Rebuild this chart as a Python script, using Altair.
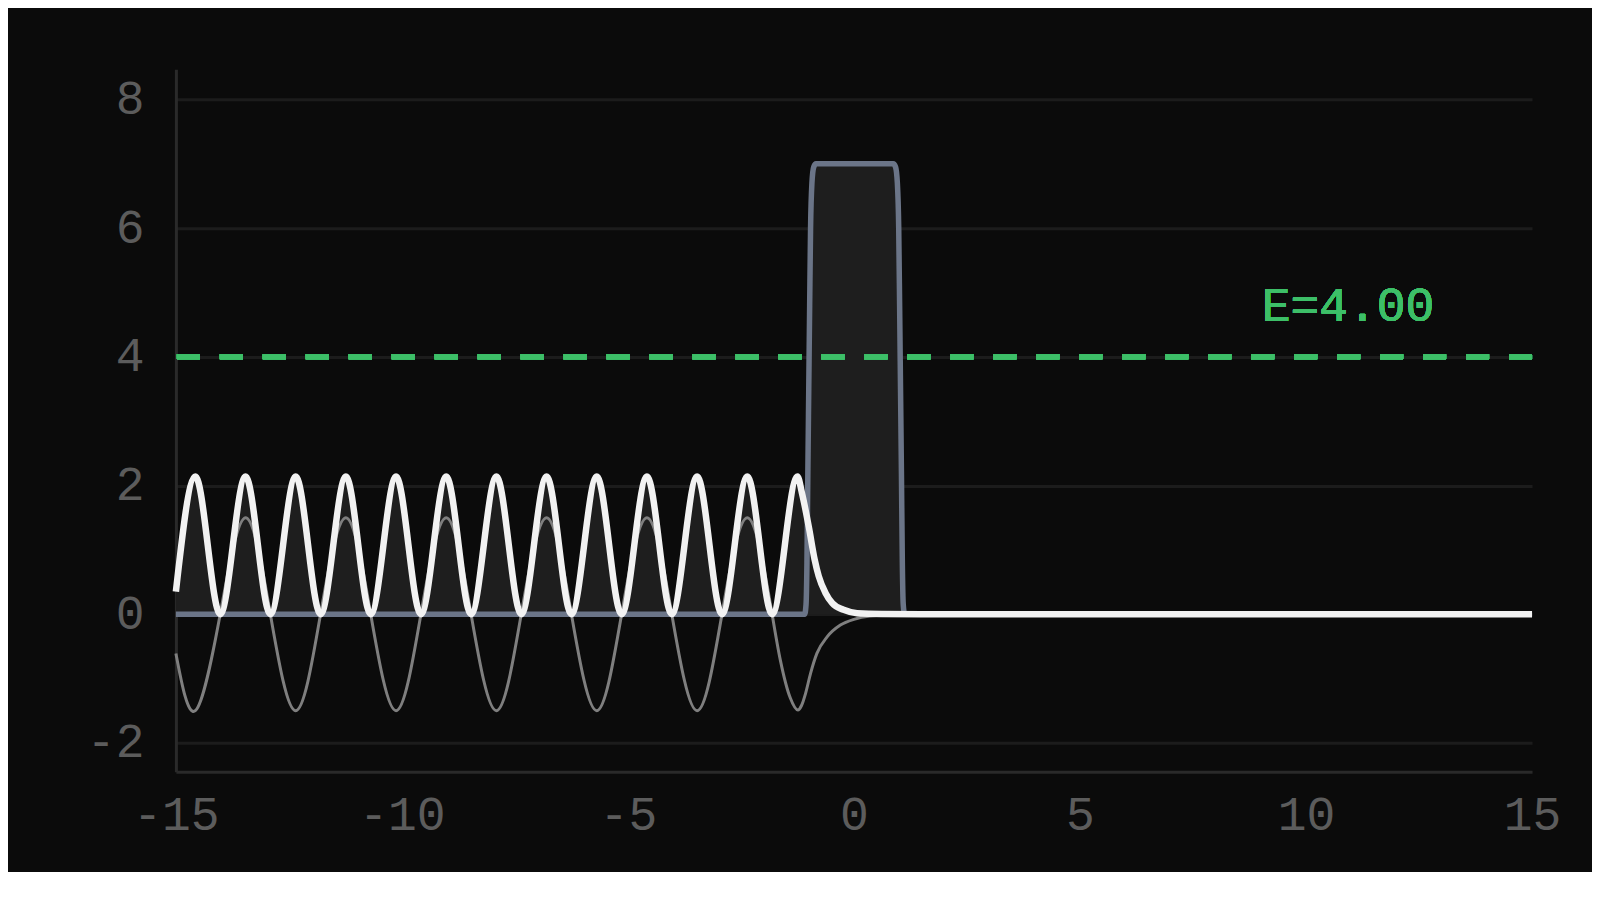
import altair as alt
import pandas as pd

# ---- data ----
x_ticks = [-15, -10, -5, 0, 5, 10, 15]
y_ticks = [-2, 0, 2, 4, 6, 8]
energy = 4.0

# potential barrier V(x)
barrier_x = [-15, -1.09, -1.06, -1.04, -1.02, -1.00, -0.98, -0.96, -0.93, -0.89, -0.84,
             0.87, 0.92, 0.96, 0.99, 1.01, 1.03, 1.05, 1.07, 1.09, 1.12, 15]
barrier_v = [0, 0, 0.15, 0.8, 2.2, 3.5, 4.8, 6.0, 6.7, 6.95, 7.0,
             7.0, 6.95, 6.7, 6.0, 4.8, 3.5, 2.2, 0.8, 0.15, 0, 0]

# probability density |psi|^2
prob_x = [-15, -14.57, -14.02, -13.46, -12.91, -12.35, -11.80, -11.24, -10.69, -10.13,
          -9.58, -9.02, -8.47, -7.91, -7.36, -6.80, -6.25, -5.69, -5.14, -4.58,
          -4.03, -3.47, -2.92, -2.36, -1.81, -1.25, -1.15, -1.00, -0.87, -0.78,
          -0.63, -0.48, -0.23, 0.07, 0.6, 1.5, 15]
prob_y = [0.35, 2.14, 0, 2.14, 0, 2.14, 0, 2.14, 0, 2.14,
          0, 2.14, 0, 2.14, 0, 2.14, 0, 2.14, 0, 2.14,
          0, 2.14, 0, 2.14, 0, 2.14, 1.88, 1.36, 0.85, 0.59,
          0.33, 0.17, 0.067, 0.015, 0.002, 0, 0]

# real part Re(psi): oscillating part, then the decaying tail into the barrier
re_x = [-15, -14.57, -14.02, -13.46, -12.91, -12.35, -11.80, -11.24, -10.69, -10.13,
        -9.58, -9.02, -8.47, -7.91, -7.36, -6.80, -6.25, -5.69, -5.14, -4.58,
        -4.03, -3.47, -2.92, -2.36, -1.81]
re_y = [-0.61, -1.5, 0, 1.5, 0, -1.5, 0, 1.5, 0, -1.5,
        0, 1.5, 0, -1.5, 0, 1.5, 0, -1.5, 0, 1.5,
        0, -1.5, 0, 1.5, 0]
re_tail_x = [-1.81, -1.63, -1.41, -1.24, -1.16, -1.07, -0.96, -0.82, -0.59, -0.30,
             0.0, 0.36, 1.0, 2.0, 15]
re_tail_y = [0, -0.71, -1.30, -1.49, -1.42, -1.23, -0.92, -0.61, -0.35, -0.17,
             -0.08, -0.03, -0.006, 0, 0]

# ---- styling ----
BG = "#0b0b0b"
FONT = "Liberation Mono"
LABEL = "#5c5c5c"
GREEN = "#3dbf68"
SLATE = "#6b7588"
FILL = "#1e1e1e"
GRAY = "#7f7f7f"

barrier_df = pd.DataFrame({"x": barrier_x, "v": barrier_v})
prob_df = pd.DataFrame({"x": prob_x, "p": prob_y})
re_df = pd.DataFrame({"x": re_x, "r": re_y})
re_tail_df = pd.DataFrame({"x": re_tail_x, "r": re_tail_y})

xs = alt.Scale(domain=[-15, 15], nice=False, zero=False)
ys = alt.Scale(domain=[-2.45, 8.47], nice=False, zero=False)

x_axis = alt.Axis(values=x_ticks, grid=False, ticks=False, tickSize=0,
                  domainColor="#2a2a2a", domainWidth=3, labelFlush=False,
                  labelFont=FONT, labelFontSize=48, labelColor=LABEL,
                  labelPadding=20, labelExpr="datum.value + ''", title=None)
y_axis = alt.Axis(values=y_ticks, grid=True, gridColor="#1c1c1c", gridWidth=3,
                  ticks=False, tickSize=0, labelFlush=False,
                  domainColor="#2a2a2a", domainWidth=3,
                  labelFont=FONT, labelFontSize=48, labelColor=LABEL,
                  labelPadding=32, labelExpr="datum.value + ''", title=None)


def X(field):
    return alt.X(f"{field}:Q", scale=xs, axis=x_axis)


def Y(field):
    return alt.Y(f"{field}:Q", scale=ys, axis=y_axis)


prob_fill = alt.Chart(prob_df).mark_area(
    interpolate="monotone", color=FILL, opacity=1
).encode(x=X("x"), y=Y("p"))

barrier_fill = alt.Chart(barrier_df).mark_area(
    interpolate="monotone", color=FILL, opacity=1
).encode(x=X("x"), y=Y("v"))

barrier_line = alt.Chart(barrier_df).mark_line(
    interpolate="monotone", color=SLATE, strokeWidth=5.5
).encode(x=X("x"), y=Y("v"))

re_line = alt.Chart(re_df).mark_line(
    interpolate="natural", color=GRAY, strokeWidth=3
).encode(x=X("x"), y=Y("r"))

re_tail = alt.Chart(re_tail_df).mark_line(
    interpolate="monotone", color=GRAY, strokeWidth=3
).encode(x=X("x"), y=Y("r"))

energy_line = alt.Chart(barrier_df).mark_rule(
    color=GREEN, strokeWidth=5, strokeDash=[23, 20]
).encode(y=alt.datum(energy, scale=ys))

prob_line = alt.Chart(prob_df).mark_line(
    interpolate="monotone", color="#f2f2f2", strokeWidth=6.5
).encode(x=X("x"), y=Y("p"))

label = alt.Chart(barrier_df).mark_text(
    text=f"E={energy:.2f}", font=FONT, fontSize=48, color=GREEN,
    align="center", baseline="alphabetic", dy=-36
).encode(x=alt.datum(10.93), y=alt.datum(energy))

chart = alt.layer(
    prob_fill, barrier_fill, barrier_line, re_line, re_tail,
    energy_line, prob_line, label
).properties(
    width=1357, height=703,
    background=BG,
    padding={"left": 168, "top": 61, "right": 60, "bottom": 100},
    autosize=alt.AutoSizeParams(type="none"),
).configure_view(stroke=None)

chart.save("out.html", embed_options={"renderer": "svg", "actions": False})
